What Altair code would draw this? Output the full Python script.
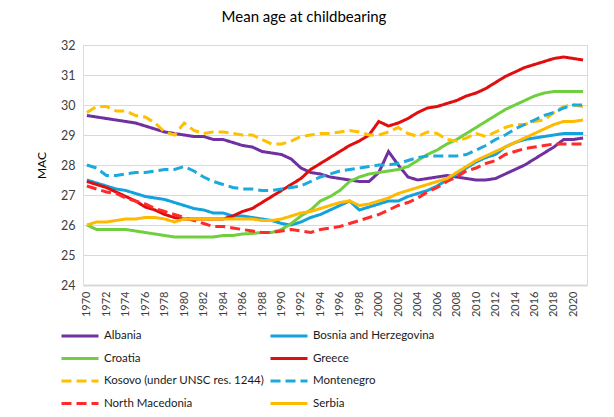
import altair as alt
import pandas as pd

years = list(range(1970, 2022))

countries = ["Albania", "Bosnia and Herzegovina", "Croatia", "Greece",
             "Kosovo (under UNSC res. 1244)", "Montenegro", "North Macedonia", "Serbia"]
colors = ["#7030A0", "#13A2DB", "#6FCF3F", "#E00E0E", "#FFC000", "#1CA9DE", "#FF2A2A", "#FFBA00"]
dashes = [[1, 0], [1, 0], [1, 0], [1, 0], [10, 5], [10, 5], [10, 5], [1, 0]]

albania = [29.65, 29.6, 29.55, 29.5, 29.45, 29.4, 29.3, 29.2, 29.1, 29.05, 29.0, 28.95, 28.95, 28.85, 28.85, 28.75,
           28.65, 28.6, 28.45, 28.4, 28.35, 28.2, 27.9, 27.75, 27.7, 27.6, 27.55, 27.5, 27.45, 27.45, 27.75, 28.45,
           28.0, 27.6, 27.5, 27.55, 27.6, 27.65, 27.6, 27.55, 27.5, 27.5, 27.55, 27.7, 27.85, 28.0, 28.2, 28.4,
           28.6, 28.85, 28.85, 28.9]
bosnia = [27.5, 27.4, 27.3, 27.2, 27.15, 27.05, 26.95, 26.9, 26.85, 26.75, 26.65, 26.55, 26.5, 26.4, 26.4, 26.3,
          26.3, 26.25, 26.2, 26.15, 26.05, 26.0, 26.1, 26.25, 26.35, 26.5, 26.65, 26.8, 26.5, 26.6, 26.7, 26.8,
          26.8, 26.95, 27.05, 27.15, 27.3, 27.5, 27.7, 27.9, 28.1, 28.25, 28.35, 28.6, 28.75, 28.85, 28.9, 28.95,
          29.0, 29.05, 29.05, 29.05]
croatia = [26.0, 25.85, 25.85, 25.85, 25.85, 25.8, 25.75, 25.7, 25.65, 25.6, 25.6, 25.6, 25.6, 25.6, 25.65, 25.65,
           25.7, 25.72, 25.75, 25.75, 25.85, 26.05, 26.3, 26.5, 26.8, 26.95, 27.15, 27.45, 27.6, 27.7, 27.75, 27.8,
           27.85, 27.95, 28.15, 28.35, 28.5, 28.7, 28.85, 29.05, 29.25, 29.45, 29.65, 29.85, 30.0, 30.15, 30.3, 30.4,
           30.45, 30.45, 30.45, 30.45]
greece = [27.45, 27.35, 27.25, 27.1, 26.95, 26.8, 26.6, 26.5, 26.35, 26.25, 26.2, 26.2, 26.2, 26.2, 26.2, 26.3,
          26.45, 26.55, 26.75, 26.95, 27.15, 27.35, 27.55, 27.85, 28.05, 28.25, 28.45, 28.65, 28.8, 29.0, 29.45, 29.3,
          29.4, 29.55, 29.75, 29.9, 29.95, 30.05, 30.15, 30.3, 30.4, 30.55, 30.75, 30.95, 31.1, 31.25, 31.35, 31.45,
          31.55, 31.6, 31.55, 31.5]
kosovo = [29.75, 29.95, 29.95, 29.8, 29.8, 29.65, 29.6, 29.4, 29.1, 29.0, 29.4, 29.15, 29.05, 29.1, 29.1, 29.05,
          29.0, 29.0, 28.85, 28.7, 28.7, 28.8, 28.95, 29.0, 29.05, 29.05, 29.1, 29.15, 29.1, 29.0, 29.0, 29.1,
          29.25, 29.05, 28.95, 29.1, 29.05, 28.85, 28.8, 28.9, 29.05, 28.95, 29.1, 29.25, 29.35, 29.35, 29.45, 29.5,
          29.75, 29.95, 30.0, 29.95]
montenegro = [28.0, 27.9, 27.65, 27.65, 27.7, 27.75, 27.75, 27.8, 27.85, 27.85, 27.95, 27.8, 27.6, 27.45, 27.35, 27.25,
              27.2, 27.2, 27.15, 27.15, 27.2, 27.25, 27.3, 27.45, 27.6, 27.7, 27.8, 27.85, 27.9, 27.95, 28.0, 28.0,
              28.05, 28.15, 28.25, 28.3, 28.3, 28.3, 28.3, 28.35, 28.5, 28.65, 28.85, 29.0, 29.2, 29.35, 29.5, 29.65,
              29.75, 29.9, 30.0, 30.0]
north_macedonia = [27.3, 27.2, 27.1, 27.05, 26.9, 26.8, 26.7, 26.55, 26.45, 26.35, 26.25, 26.15, 26.05, 25.95, 25.95, 25.9,
                   25.85, 25.8, 25.75, 25.75, 25.8, 25.85, 25.8, 25.75, 25.85, 25.9, 25.95, 26.05, 26.15, 26.25, 26.35, 26.5,
                   26.65, 26.75, 26.9, 27.1, 27.25, 27.45, 27.6, 27.8, 27.9, 28.05, 28.15, 28.35, 28.45, 28.55, 28.6, 28.65,
                   28.7, 28.7, 28.7, 28.7]
serbia = [26.0, 26.1, 26.1, 26.15, 26.2, 26.2, 26.25, 26.25, 26.2, 26.1, 26.2, 26.2, 26.2, 26.2, 26.2, 26.2,
          26.2, 26.2, 26.15, 26.15, 26.2, 26.3, 26.4, 26.45, 26.55, 26.65, 26.75, 26.8, 26.65, 26.7, 26.8, 26.9,
          27.05, 27.15, 27.25, 27.35, 27.45, 27.55, 27.75, 27.95, 28.15, 28.3, 28.45, 28.6, 28.75, 28.9, 29.05, 29.2,
          29.35, 29.45, 29.45, 29.5]

series = [albania, bosnia, croatia, greece, kosovo, montenegro, north_macedonia, serbia]

rows = []
for name, vals in zip(countries, series):
    for y, v in zip(years, vals):
        rows.append({"country": name, "year": y, "mac": v})
df = pd.DataFrame(rows)

# legend fills column by column: reorder so the two columns read row by row
legend_order = [countries[i] for i in (0, 2, 4, 6, 1, 3, 5, 7)]
legend_colors = [colors[countries.index(c)] for c in legend_order]
legend_dashes = [dashes[countries.index(c)] for c in legend_order]

FONT = "Lato"


def make_legend():
    return alt.Legend(title=None, orient="none", legendX=-23, legendY=281, columns=2,
                      symbolType="stroke", symbolSize=1369, symbolStrokeWidth=3,
                      labelFontSize=11.5, labelFont=FONT, labelColor="#1a1a1a", labelLimit=300,
                      labelFontWeight="normal", clipHeight=20,
                      columnPadding=4, rowPadding=2.5, labelOffset=4)


chart = alt.Chart(df).mark_line(strokeWidth=3).encode(
    x=alt.X("year:Q", scale=alt.Scale(domain=[1969.6, 2021.4], nice=False, zero=False),
            axis=alt.Axis(values=list(range(1970, 2021, 2)), format="d", labelAngle=-90, title=None,
                          grid=False, ticks=False, domainColor="#D9D9D9", domainWidth=2,
                          labelFontSize=11, labelColor="#404040", labelPadding=6)),
    y=alt.Y("mac:Q", scale=alt.Scale(domain=[24, 32], nice=False, zero=False),
            axis=alt.Axis(values=list(range(24, 33)), title="MAC", grid=True, gridColor="#D9D9D9",
                          domain=False, ticks=False, labelFontSize=12.5, labelColor="#404040",
                          labelPadding=8, titleFontSize=12, titleFontWeight="normal", titleColor="#000000",
                          titlePadding=12)),
    color=alt.Color("country:N", scale=alt.Scale(domain=legend_order, range=legend_colors),
                    legend=make_legend()),
    strokeDash=alt.StrokeDash("country:N", scale=alt.Scale(domain=legend_order, range=legend_dashes),
                              legend=make_legend()),
).properties(
    width=504, height=240,
    title=alt.TitleParams("Mean age at childbearing", fontSize=15, fontWeight="normal", font=FONT,
                          color="#000000", anchor="middle", dx=-31, offset=14),
    autosize=alt.AutoSizeParams(type="none"),
    padding={"left": 75, "top": 37, "right": 19, "bottom": 124},
).configure_view(stroke=None).configure(font=FONT)

chart.save("out.html", embed_options={"renderer": "svg", "actions": False})
